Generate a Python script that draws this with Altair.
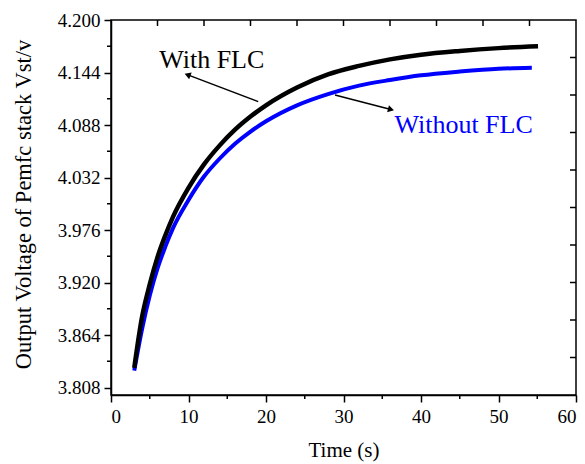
import altair as alt
import pandas as pd

# ---- data ----
t_with = [3, 4, 5, 6, 7, 8, 10, 12, 14, 16, 18, 20, 24, 28, 32, 36, 40, 45, 50, 55.1]
v_with = [3.829, 3.883, 3.918, 3.947, 3.970, 3.990, 4.021, 4.046, 4.066, 4.083, 4.097, 4.109,
          4.128, 4.142, 4.151, 4.158, 4.163, 4.167, 4.170, 4.172]
t_without = [3, 4, 5, 6, 7, 8, 10, 12, 14, 16, 18, 20, 24, 28, 32, 36, 40, 45, 50, 54.3]
v_without = [3.826, 3.870, 3.906, 3.935, 3.958, 3.978, 4.008, 4.033, 4.052, 4.068, 4.081, 4.092,
             4.109, 4.121, 4.130, 4.136, 4.141, 4.145, 4.148, 4.149]

x_major = [0, 10, 20, 30, 40, 50, 60]
x_minor = [5, 15, 25, 35, 45, 55]
y_major = [3.808, 3.864, 3.920, 3.976, 4.032, 4.088, 4.144, 4.200]
y_minor = [3.836, 3.892, 3.948, 4.004, 4.060, 4.116, 4.172]
top_ticks = [6, 12, 18, 24, 30, 36, 42, 48, 54]
right_ticks = [3.84, 3.88, 3.92, 3.96, 4.00, 4.04, 4.08, 4.12, 4.16]

label_text = ["With FLC", "Without FLC"]
label_x = [13.0, 45.5]
label_y = [4.1485, 4.0792]
label_color = ["#000000", "#0000ff"]

arrow_x_tail = [19.0, 28.9]
arrow_y_tail = [4.1129, 4.1200]
arrow_x_head = [10.0, 36.0]
arrow_y_head = [4.1412, 4.1048]
arrow_angle = [291, 105]

FONT = "Liberation Serif"
W, H = 465, 375

xs = alt.Scale(domain=[0, 60], nice=False, zero=False)
ys = alt.Scale(domain=[3.8, 4.2], nice=False, zero=False)

df_with = pd.DataFrame({"t": t_with, "v": v_with})
df_without = pd.DataFrame({"t": t_without, "v": v_without})

x_axis = alt.Axis(values=x_major, tickSize=7, labelFontSize=19, labelPadding=5,
                  title="Time (s)", titleFontSize=21, titleX=W / 2, titleY=55,
                  titleBaseline="middle", grid=False)
y_axis = alt.Axis(values=y_major, format=".3f", tickSize=7, labelFontSize=19, labelPadding=4,
                  title="Output Voltage of Pemfc stack  Vst/v", titleFontSize=22.5,
                  titleX=-88, titleY=184, titleAngle=270, titleAlign="center",
                  titleBaseline="middle", grid=False)

line_without = alt.Chart(df_without).mark_line(color="#0000ff", strokeWidth=4, interpolate="monotone").encode(
    x=alt.X("t:Q", scale=xs, axis=x_axis),
    y=alt.Y("v:Q", scale=ys, axis=y_axis),
)
line_with = alt.Chart(df_with).mark_line(color="#000000", strokeWidth=4.5, interpolate="monotone").encode(
    x=alt.X("t:Q", scale=xs),
    y=alt.Y("v:Q", scale=ys),
)

# minor and mirrored ticks
ym = alt.Chart(pd.DataFrame({"v": y_minor})).mark_rule(color="black", strokeWidth=1.5).encode(
    y=alt.Y("v:Q", scale=ys), x=alt.value(0), x2=alt.value(-4))
xm = alt.Chart(pd.DataFrame({"t": x_minor})).mark_rule(color="black", strokeWidth=1.5).encode(
    x=alt.X("t:Q", scale=xs), y=alt.value(H), y2=alt.value(H + 4))
tt = alt.Chart(pd.DataFrame({"t": top_ticks})).mark_rule(color="black", strokeWidth=1.5).encode(
    x=alt.X("t:Q", scale=xs), y=alt.value(0), y2=alt.value(6))
rt = alt.Chart(pd.DataFrame({"v": right_ticks})).mark_rule(color="black", strokeWidth=1.5).encode(
    y=alt.Y("v:Q", scale=ys), x=alt.value(W), x2=alt.value(W - 6))

df_arrows = pd.DataFrame({"x1": arrow_x_tail, "y1": arrow_y_tail, "x2": arrow_x_head,
                          "y2": arrow_y_head, "ang": arrow_angle})
arrow_lines = alt.Chart(df_arrows).mark_rule(color="black", strokeWidth=1.5).encode(
    x=alt.X("x1:Q", scale=xs), y=alt.Y("y1:Q", scale=ys), x2="x2:Q", y2="y2:Q")
arrow_heads = alt.Chart(df_arrows).mark_point(shape="triangle", filled=True, color="black",
                                              size=50, opacity=1).encode(
    x=alt.X("x2:Q", scale=xs), y=alt.Y("y2:Q", scale=ys), angle=alt.Angle("ang:Q", scale=None))

df_labels = pd.DataFrame({"x": label_x, "y": label_y, "txt": label_text, "col": label_color})
labels = alt.Chart(df_labels).mark_text(font=FONT, fontSize=26, baseline="alphabetic", align="center").encode(
    x=alt.X("x:Q", scale=xs), y=alt.Y("y:Q", scale=ys), text="txt:N",
    color=alt.Color("col:N", scale=None))

chart = alt.layer(line_without, line_with, ym, xm, tt, rt, arrow_lines, arrow_heads, labels).properties(
    width=W, height=H,
    autosize=alt.AutoSizeParams(type="none"),
    padding={"left": 111, "top": 20, "right": 9, "bottom": 69},
    background="white",
).configure_view(stroke="black", strokeWidth=1.5).configure_axis(
    domainColor="black", domainWidth=1.5, tickColor="black", tickWidth=1.5,
    labelFont=FONT, titleFont=FONT, labelColor="black", titleColor="black",
    titleFontWeight="normal",
)

chart.save("out.html", embed_options={"renderer": "svg", "actions": False})
